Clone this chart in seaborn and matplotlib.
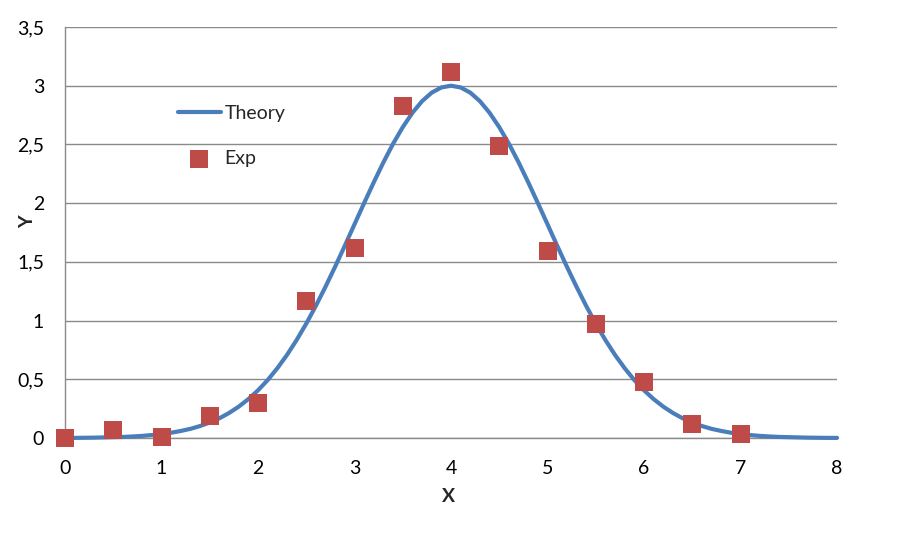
import matplotlib
matplotlib.use("Agg")
import matplotlib.pyplot as plt
import pandas as pd
import seaborn as sns

exp_x = [0, 0.5, 1, 1.5, 2, 2.5, 3, 3.5, 4, 4.5, 5, 5.5, 6, 6.5, 7]
exp_y = [0.0, 0.07, 0.01, 0.19, 0.30, 1.17, 1.62, 2.83, 3.12, 2.49, 1.59, 0.97, 0.48, 0.12, 0.03]

# theory curve, step 0.1
theory_x = [i / 10 for i in range(81)]
theory_y = [0.001, 0.001, 0.002, 0.003, 0.005, 0.007, 0.009, 0.013, 0.018, 0.025,
            0.033, 0.045, 0.060, 0.078, 0.102, 0.132, 0.168, 0.213, 0.267, 0.331,
            0.406, 0.493, 0.594, 0.707, 0.834, 0.974, 1.126, 1.289, 1.460, 1.638,
            1.820, 2.001, 2.178, 2.348, 2.506, 2.647, 2.769, 2.868, 2.941, 2.985,
            3.000,
            2.985, 2.941, 2.868, 2.769, 2.647, 2.506, 2.348, 2.178, 2.001, 1.820,
            1.638, 1.460, 1.289, 1.126, 0.974, 0.834, 0.707, 0.594, 0.493, 0.406,
            0.331, 0.267, 0.213, 0.168, 0.132, 0.102, 0.078, 0.060, 0.045, 0.033,
            0.025, 0.018, 0.013, 0.009, 0.007, 0.005, 0.003, 0.002, 0.001, 0.001]

x_ticks = [0, 1, 2, 3, 4, 5, 6, 7, 8]
y_ticks = [0, 0.5, 1, 1.5, 2, 2.5, 3, 3.5]
y_tick_labels = ["0", "0,5", "1", "1,5", "2", "2,5", "3", "3,5"]

sns.set_style("white")
plt.rcParams["font.family"] = ["Lato", "DejaVu Sans"]

fig = plt.figure(figsize=(9.21, 5.53), dpi=100)
ax = fig.add_axes([65 / 921, 1 - 438 / 553, (837 - 65) / 921, (438 - 27) / 553])

theory = pd.DataFrame({"x": theory_x, "y": theory_y})
exp = pd.DataFrame({"x": exp_x, "y": exp_y})

sns.lineplot(data=theory, x="x", y="y", ax=ax, color="#4A7EBB", linewidth=3,
             label="Theory", clip_on=False, zorder=3, solid_joinstyle="round")
sns.scatterplot(data=exp, x="x", y="y", ax=ax, color="#BE4B48", marker="s", s=150,
                linewidth=0, label="Exp", clip_on=False, zorder=4)

ax.set_xlim(0, 8)
ax.set_ylim(0, 3.5)
ax.set_xticks(x_ticks)
ax.set_yticks(y_ticks)
ax.set_yticklabels(y_tick_labels)
ax.tick_params(axis="both", labelsize=14, length=0, colors="#000000")
ax.tick_params(axis="x", pad=16)
ax.tick_params(axis="y", pad=15)

ax.yaxis.grid(True, color="#8a8a8a", linewidth=1)
ax.xaxis.grid(False)
for side in ["top", "right"]:
    ax.spines[side].set_visible(False)
for side in ["left", "bottom"]:
    ax.spines[side].set_color("#8a8a8a")
    ax.spines[side].set_linewidth(1)

ax.set_xlabel("X", fontsize=14, fontweight="bold")
ax.set_ylabel("Y", fontsize=14, fontweight="bold")
ax.xaxis.set_label_coords((449 - 65) / (837 - 65), -(497 - 438) / (438 - 27))
ax.yaxis.set_label_coords(-(65 - 28) / (837 - 65), (438 - 222) / (438 - 27))
ax.xaxis.label.set_va("center")
ax.yaxis.label.set_va("center")

ax.legend(loc="upper left", bbox_to_anchor=(178 / 921, 1 - 105 / 553),
          bbox_transform=fig.transFigure, frameon=False, fontsize=14,
          handlelength=2.2, handletextpad=0.2, labelspacing=1.45,
          borderpad=0, borderaxespad=0)

fig.savefig("out.png", dpi=100)
